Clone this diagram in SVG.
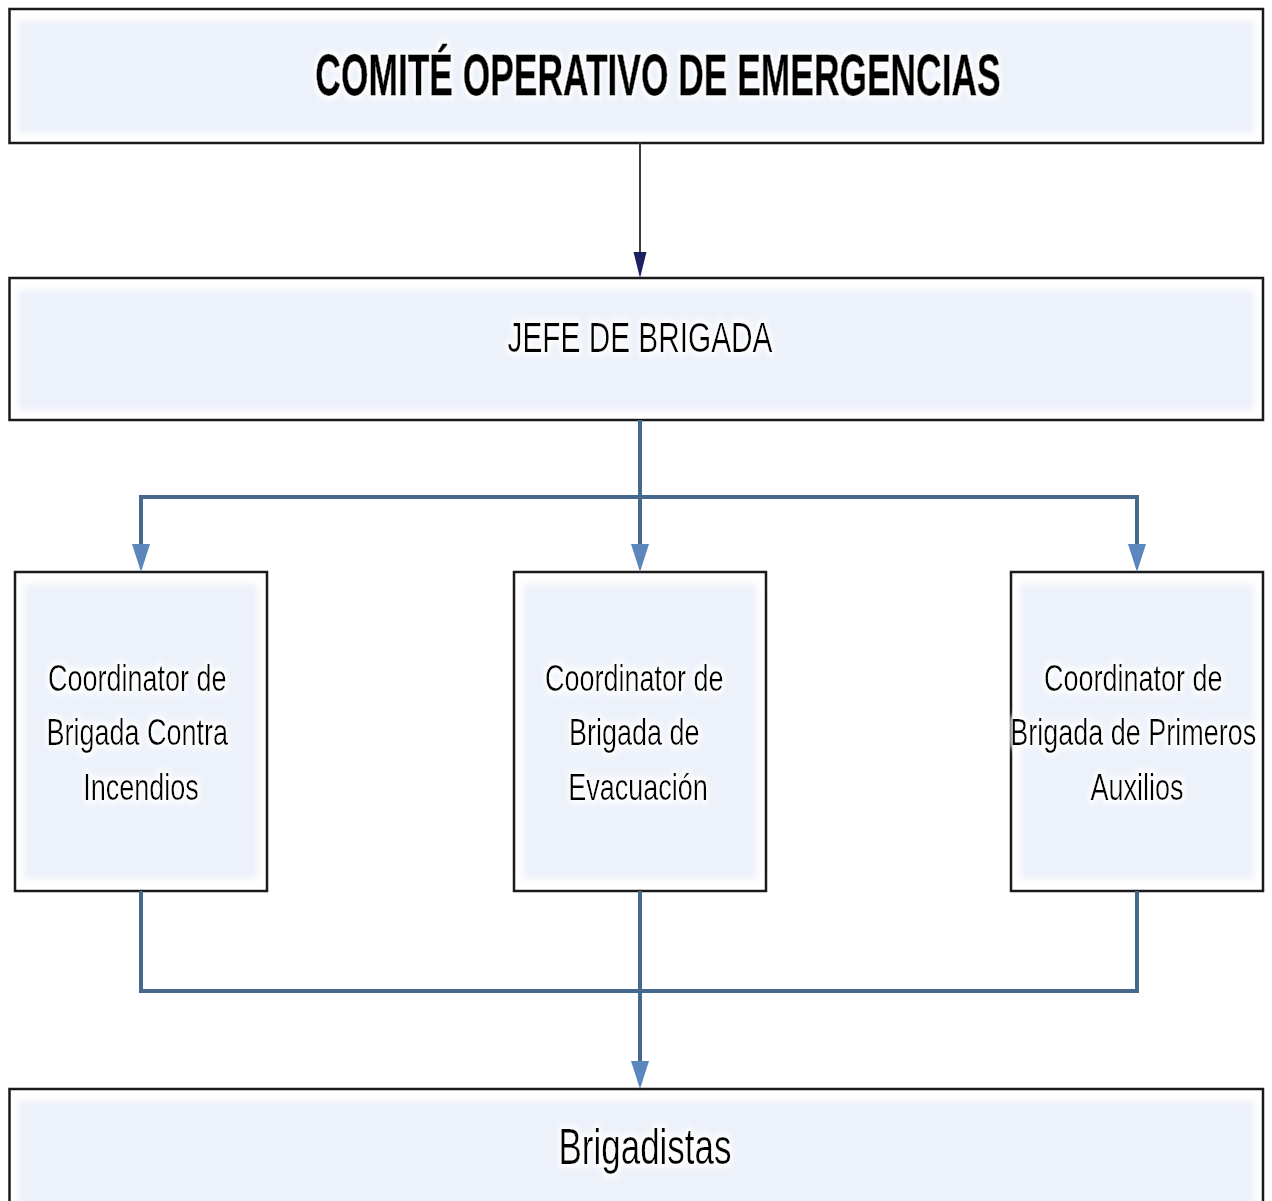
<svg xmlns="http://www.w3.org/2000/svg" width="1272" height="1201" viewBox="0 0 1272 1201">
<style>
.box{fill:#ffffff;stroke:#1a1a1a;stroke-width:2.5}
.panel{fill:#edf1f9;filter:url(#soft)}
.conn{fill:none;stroke:#47688d;stroke-width:4;stroke-linejoin:miter}
.thin{fill:none;stroke:#3a3a3a;stroke-width:2}
.t{font-family:"Liberation Sans",Arial,sans-serif;fill:#000;text-anchor:middle;filter:url(#halo)}
.title{font-weight:bold;font-size:58px;stroke:#000;stroke-width:0.8}
.jefe{font-size:42px}
.coord{font-size:37px}
.brig{font-size:50px}
</style>
<defs>
<filter id="soft" x="-5%" y="-5%" width="110%" height="110%">
<feGaussianBlur stdDeviation="3"/>
</filter>
<filter id="halo" x="-10%" y="-30%" width="120%" height="160%">
<feMorphology in="SourceAlpha" operator="dilate" radius="3" result="d"/>
<feGaussianBlur in="d" stdDeviation="3" result="b"/>
<feFlood flood-color="#ffffff" result="w"/>
<feComposite in="w" in2="b" operator="in" result="g"/>
<feMerge><feMergeNode in="g"/><feMergeNode in="SourceGraphic"/></feMerge>
</filter>
</defs>
<rect width="1272" height="1201" fill="#ffffff"/>

<g id="node-comite">
<rect class="box" x="9.5" y="9" width="1253.5" height="134"/>
<rect class="panel" x="18" y="21" width="1236" height="112"/>
<text class="t title" transform="translate(658,95) scale(0.61,1)" x="0" y="0">COMITÉ OPERATIVO DE EMERGENCIAS</text>
</g>

<g id="node-jefe">
<rect class="box" x="9.5" y="278" width="1253.5" height="142"/>
<rect class="panel" x="18" y="290" width="1236" height="120"/>
<text class="t jefe" transform="translate(640,352) scale(0.71,1)" x="0" y="0">JEFE DE BRIGADA</text>
</g>

<g id="node-incendios">
<rect class="box" x="15" y="572" width="252" height="319"/>
<rect class="panel" x="24" y="584" width="234" height="295"/>
<text class="t coord" transform="translate(141,0) scale(0.73,1)">
<tspan x="0" y="691">Coordinator de</tspan>
<tspan x="0" y="745">Brigada Contra</tspan>
<tspan x="0" y="800">Incendios</tspan>
</text>
</g>

<g id="node-evacuacion">
<rect class="box" x="514" y="572" width="252" height="319"/>
<rect class="panel" x="523" y="584" width="234" height="295"/>
<text class="t coord" transform="translate(638,0) scale(0.73,1)">
<tspan x="0" y="691">Coordinator de</tspan>
<tspan x="0" y="745">Brigada de</tspan>
<tspan x="0" y="800">Evacuación</tspan>
</text>
</g>

<g id="node-auxilios">
<rect class="box" x="1011" y="572" width="252" height="319"/>
<rect class="panel" x="1020" y="584" width="234" height="295"/>
<text class="t coord" transform="translate(1137,0) scale(0.73,1)">
<tspan x="0" y="691">Coordinator de</tspan>
<tspan x="0" y="745">Brigada de Primeros</tspan>
<tspan x="0" y="800">Auxilios</tspan>
</text>
</g>

<g id="node-brigadistas">
<rect class="box" x="9.5" y="1089" width="1253.5" height="130"/>
<rect class="panel" x="18" y="1101" width="1236" height="110"/>
<text class="t brig" transform="translate(645,1164) scale(0.7,1)" x="0" y="0">Brigadistas</text>
</g>

<g id="connectors">
<line class="thin" x1="640" y1="143" x2="640" y2="260"/>
<path d="M633.5,252 L646.5,252 L640,278 Z" fill="#1c2062"/>

<path class="conn" d="M640,420 V545"/>
<path class="conn" d="M141,545 V497 H1137 V545"/>
<path d="M132,544 L150,544 L141,572 Z" fill="#5b87bd"/>
<path d="M631,544 L649,544 L640,572 Z" fill="#5b87bd"/>
<path d="M1128,544 L1146,544 L1137,572 Z" fill="#5b87bd"/>

<path class="conn" d="M141,891 V991 H1137 V891"/>
<path class="conn" d="M640,891 V1062"/>
<path d="M631,1061 L649,1061 L640,1089 Z" fill="#5b87bd"/>
</g>
</svg>
